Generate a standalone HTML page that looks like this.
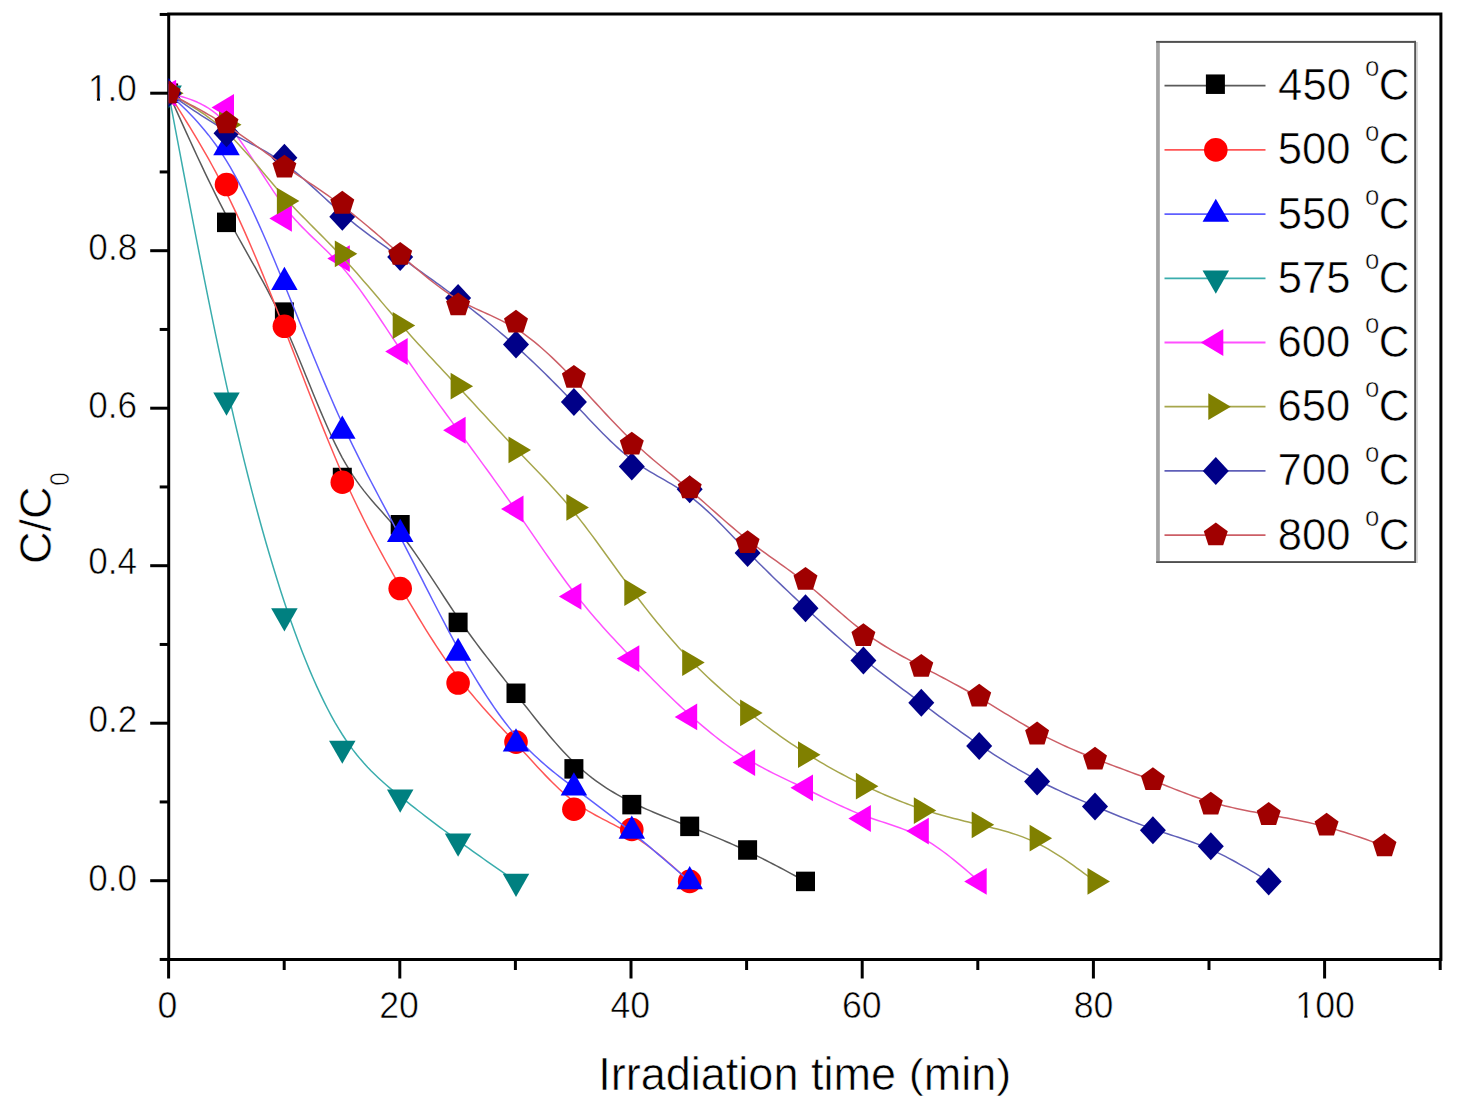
<!DOCTYPE html>
<html><head><meta charset="utf-8"><style>
html,body{margin:0;padding:0;background:#fff;}
body{width:1468px;height:1118px;overflow:hidden;}
svg{display:block;}
text{font-family:"Liberation Sans",sans-serif;fill:#000;stroke:#fff;stroke-width:0.6px;}
.tl{font-size:36px;}
.lg{font-size:42.5px;}
.sup{font-size:26px;}
.ax{font-size:44px;}
</style></head><body>
<svg width="1468" height="1118" viewBox="0 0 1468 1118">
<defs><clipPath id="pc"><rect x="168.6" y="15.5" width="1270.8" height="942.5"/></clipPath></defs>
<rect width="1468" height="1118" fill="#fff"/>
<rect x="168.7" y="14.0" width="1272.2" height="945.5" fill="none" stroke="#000" stroke-width="3"/>
<line x1="159.7" y1="959.45" x2="168.7" y2="959.45" stroke="#000" stroke-width="3"/>
<line x1="150.2" y1="880.70" x2="168.7" y2="880.70" stroke="#000" stroke-width="3"/>
<line x1="159.7" y1="801.95" x2="168.7" y2="801.95" stroke="#000" stroke-width="3"/>
<line x1="150.2" y1="723.20" x2="168.7" y2="723.20" stroke="#000" stroke-width="3"/>
<line x1="159.7" y1="644.45" x2="168.7" y2="644.45" stroke="#000" stroke-width="3"/>
<line x1="150.2" y1="565.70" x2="168.7" y2="565.70" stroke="#000" stroke-width="3"/>
<line x1="159.7" y1="486.95" x2="168.7" y2="486.95" stroke="#000" stroke-width="3"/>
<line x1="150.2" y1="408.20" x2="168.7" y2="408.20" stroke="#000" stroke-width="3"/>
<line x1="159.7" y1="329.45" x2="168.7" y2="329.45" stroke="#000" stroke-width="3"/>
<line x1="150.2" y1="250.70" x2="168.7" y2="250.70" stroke="#000" stroke-width="3"/>
<line x1="159.7" y1="171.95" x2="168.7" y2="171.95" stroke="#000" stroke-width="3"/>
<line x1="150.2" y1="93.20" x2="168.7" y2="93.20" stroke="#000" stroke-width="3"/>
<line x1="159.7" y1="14.45" x2="168.7" y2="14.45" stroke="#000" stroke-width="3"/>
<line x1="168.60" y1="959.5" x2="168.60" y2="978.5" stroke="#000" stroke-width="3"/>
<line x1="284.20" y1="959.5" x2="284.20" y2="970.0" stroke="#000" stroke-width="3"/>
<line x1="399.80" y1="959.5" x2="399.80" y2="978.5" stroke="#000" stroke-width="3"/>
<line x1="515.40" y1="959.5" x2="515.40" y2="970.0" stroke="#000" stroke-width="3"/>
<line x1="631.00" y1="959.5" x2="631.00" y2="978.5" stroke="#000" stroke-width="3"/>
<line x1="746.60" y1="959.5" x2="746.60" y2="970.0" stroke="#000" stroke-width="3"/>
<line x1="862.20" y1="959.5" x2="862.20" y2="978.5" stroke="#000" stroke-width="3"/>
<line x1="977.80" y1="959.5" x2="977.80" y2="970.0" stroke="#000" stroke-width="3"/>
<line x1="1093.40" y1="959.5" x2="1093.40" y2="978.5" stroke="#000" stroke-width="3"/>
<line x1="1209.00" y1="959.5" x2="1209.00" y2="970.0" stroke="#000" stroke-width="3"/>
<line x1="1324.60" y1="959.5" x2="1324.60" y2="978.5" stroke="#000" stroke-width="3"/>
<line x1="1440.20" y1="959.5" x2="1440.20" y2="970.0" stroke="#000" stroke-width="3"/>
<g transform="translate(88.07,101.35) scale(0.9600,1.0000)"><text x="0" y="0" style="font-size:36.60px">1.0</text><rect x="1.79" y="-3.43" width="7.42" height="4.53" fill="#fff"/><rect x="12.44" y="-3.43" width="7.22" height="4.53" fill="#fff"/></g>
<g transform="translate(88.36,259.65) scale(0.9600,1.0000)"><text x="0" y="0" style="font-size:36.60px">0.8</text></g>
<g transform="translate(88.31,417.85) scale(0.9600,1.0000)"><text x="0" y="0" style="font-size:36.60px">0.6</text></g>
<g transform="translate(88.31,574.40) scale(0.9600,1.0000)"><text x="0" y="0" style="font-size:36.60px">0.4</text></g>
<g transform="translate(88.53,732.40) scale(0.9600,1.0000)"><text x="0" y="0" style="font-size:36.60px">0.2</text></g>
<g transform="translate(88.28,890.55) scale(0.9600,1.0000)"><text x="0" y="0" style="font-size:36.60px">0.0</text></g>
<g transform="translate(157.62,1018.39) scale(0.9500,1.0000)"><text x="0" y="0" style="font-size:37.60px">0</text></g>
<g transform="translate(379.23,1018.19) scale(0.9500,1.0000)"><text x="0" y="0" style="font-size:37.60px">20</text></g>
<g transform="translate(610.47,1018.19) scale(0.9500,1.0000)"><text x="0" y="0" style="font-size:37.60px">40</text></g>
<g transform="translate(841.92,1017.99) scale(0.9500,1.0000)"><text x="0" y="0" style="font-size:37.60px">60</text></g>
<g transform="translate(1073.71,1018.09) scale(0.9500,1.0000)"><text x="0" y="0" style="font-size:37.60px">80</text></g>
<g transform="translate(1295.33,1018.19) scale(0.9500,1.0000)"><text x="0" y="0" style="font-size:37.60px">100</text><rect x="1.84" y="-3.51" width="7.62" height="4.61" fill="#fff"/><rect x="12.78" y="-3.51" width="7.42" height="4.61" fill="#fff"/></g>
<g clip-path="url(#pc)">
<path d="M168.60,93.20 L172.22,101.27 L175.84,109.33 L179.46,117.37 L183.07,125.38 L186.69,133.36 L190.31,141.29 L193.93,149.15 L197.55,156.95 L201.17,164.68 L204.79,172.32 L208.41,179.86 L212.02,187.29 L215.64,194.61 L219.26,201.81 L222.88,208.87 L226.50,215.79 L230.12,222.56 L233.74,229.20 L237.36,235.75 L240.97,242.22 L244.59,248.66 L248.21,255.08 L251.83,261.51 L255.45,267.99 L259.07,274.54 L262.69,281.19 L266.31,287.96 L269.92,294.89 L273.54,302.01 L277.16,309.33 L280.78,316.89 L284.40,324.73 L288.02,332.84 L291.64,341.20 L295.26,349.76 L298.87,358.48 L302.49,367.30 L306.11,376.18 L309.73,385.07 L313.35,393.93 L316.97,402.70 L320.59,411.34 L324.21,419.81 L327.82,428.05 L331.44,436.02 L335.06,443.66 L338.68,450.95 L342.30,457.81 L345.92,464.23 L349.54,470.23 L353.16,475.85 L356.77,481.14 L360.39,486.12 L364.01,490.86 L367.63,495.37 L371.25,499.71 L374.87,503.92 L378.49,508.04 L382.11,512.11 L385.72,516.17 L389.34,520.27 L392.96,524.43 L396.58,528.71 L400.20,533.15 L403.82,537.77 L407.44,542.57 L411.06,547.54 L414.67,552.64 L418.29,557.86 L421.91,563.18 L425.53,568.59 L429.15,574.07 L432.77,579.59 L436.39,585.13 L440.01,590.69 L443.62,596.24 L447.24,601.75 L450.86,607.22 L454.48,612.62 L458.10,617.94 L461.72,623.15 L465.34,628.27 L468.96,633.30 L472.58,638.25 L476.19,643.12 L479.81,647.93 L483.43,652.68 L487.05,657.38 L490.67,662.03 L494.29,666.65 L497.91,671.25 L501.53,675.82 L505.14,680.38 L508.76,684.93 L512.38,689.49 L516.00,694.06 L519.62,698.65 L523.24,703.24 L526.86,707.83 L530.48,712.40 L534.09,716.95 L537.71,721.47 L541.33,725.93 L544.95,730.34 L548.57,734.68 L552.19,738.95 L555.81,743.12 L559.42,747.19 L563.04,751.14 L566.66,754.98 L570.28,758.68 L573.90,762.23 L577.52,765.64 L581.14,768.89 L584.76,772.00 L588.37,774.97 L591.99,777.82 L595.61,780.54 L599.23,783.14 L602.85,785.63 L606.47,788.01 L610.09,790.30 L613.71,792.49 L617.32,794.60 L620.94,796.63 L624.56,798.58 L628.18,800.47 L631.80,802.29 L635.42,804.06 L639.04,805.78 L642.66,807.45 L646.27,809.08 L649.89,810.67 L653.51,812.22 L657.13,813.75 L660.75,815.24 L664.37,816.71 L667.99,818.17 L671.61,819.60 L675.22,821.03 L678.84,822.44 L682.46,823.85 L686.08,825.26 L689.70,826.68 L693.32,828.10 L696.94,829.53 L700.56,830.97 L704.17,832.42 L707.79,833.89 L711.41,835.37 L715.03,836.86 L718.65,838.38 L722.27,839.91 L725.89,841.46 L729.51,843.04 L733.12,844.63 L736.74,846.26 L740.36,847.91 L743.98,849.58 L747.60,851.29 L751.22,853.02 L754.84,854.79 L758.46,856.58 L762.08,858.39 L765.69,860.23 L769.31,862.09 L772.93,863.97 L776.55,865.86 L780.17,867.77 L783.79,869.69 L787.41,871.63 L791.03,873.57 L794.64,875.53 L798.26,877.48 L801.88,879.45 L805.50,881.41" fill="none" stroke="#5a5a5a" stroke-width="1.5" stroke-linejoin="round"/>
<rect x="159.10" y="83.45" width="19" height="19.5" fill="#000000"/>
<rect x="217.00" y="212.60" width="19" height="19.5" fill="#000000"/>
<rect x="274.90" y="302.38" width="19" height="19.5" fill="#000000"/>
<rect x="332.80" y="467.75" width="19" height="19.5" fill="#000000"/>
<rect x="390.70" y="515.00" width="19" height="19.5" fill="#000000"/>
<rect x="448.60" y="612.65" width="19" height="19.5" fill="#000000"/>
<rect x="506.50" y="683.53" width="19" height="19.5" fill="#000000"/>
<rect x="564.40" y="759.12" width="19" height="19.5" fill="#000000"/>
<rect x="622.30" y="794.88" width="19" height="19.5" fill="#000000"/>
<rect x="680.20" y="816.61" width="19" height="19.5" fill="#000000"/>
<rect x="738.10" y="840.24" width="19" height="19.5" fill="#000000"/>
<rect x="796.00" y="871.66" width="19" height="19.5" fill="#000000"/>
<path d="M168.60,93.20 L172.22,98.91 L175.84,104.64 L179.46,110.38 L183.07,116.17 L186.69,122.00 L190.31,127.90 L193.93,133.87 L197.55,139.93 L201.17,146.08 L204.79,152.34 L208.41,158.73 L212.02,165.26 L215.64,171.93 L219.26,178.76 L222.88,185.76 L226.50,192.95 L230.12,200.33 L233.74,207.90 L237.36,215.65 L240.97,223.57 L244.59,231.65 L248.21,239.88 L251.83,248.26 L255.45,256.77 L259.07,265.41 L262.69,274.16 L266.31,283.03 L269.92,291.99 L273.54,301.04 L277.16,310.18 L280.78,319.39 L284.40,328.66 L288.02,337.99 L291.64,347.36 L295.26,356.75 L298.87,366.15 L302.49,375.54 L306.11,384.91 L309.73,394.25 L313.35,403.52 L316.97,412.73 L320.59,421.86 L324.21,430.88 L327.82,439.79 L331.44,448.57 L335.06,457.20 L338.68,465.67 L342.30,473.96 L345.92,482.06 L349.54,489.97 L353.16,497.71 L356.77,505.28 L360.39,512.70 L364.01,519.97 L367.63,527.10 L371.25,534.10 L374.87,540.98 L378.49,547.75 L382.11,554.42 L385.72,561.00 L389.34,567.49 L392.96,573.91 L396.58,580.27 L400.20,586.57 L403.82,592.82 L407.44,599.02 L411.06,605.16 L414.67,611.24 L418.29,617.25 L421.91,623.18 L425.53,629.04 L429.15,634.80 L432.77,640.48 L436.39,646.05 L440.01,651.53 L443.62,656.89 L447.24,662.14 L450.86,667.26 L454.48,672.26 L458.10,677.13 L461.72,681.86 L465.34,686.47 L468.96,690.95 L472.58,695.33 L476.19,699.62 L479.81,703.82 L483.43,707.94 L487.05,712.00 L490.67,716.01 L494.29,719.97 L497.91,723.90 L501.53,727.81 L505.14,731.71 L508.76,735.61 L512.38,739.52 L516.00,743.45 L519.62,747.41 L523.24,751.39 L526.86,755.37 L530.48,759.34 L534.09,763.29 L537.71,767.21 L541.33,771.07 L544.95,774.88 L548.57,778.61 L552.19,782.25 L555.81,785.78 L559.42,789.20 L563.04,792.49 L566.66,795.64 L570.28,798.63 L573.90,801.45 L577.52,804.09 L581.14,806.57 L584.76,808.91 L588.37,811.12 L591.99,813.22 L595.61,815.23 L599.23,817.18 L602.85,819.07 L606.47,820.94 L610.09,822.80 L613.71,824.66 L617.32,826.56 L620.94,828.50 L624.56,830.50 L628.18,832.59 L631.80,834.79 L635.42,837.10 L639.04,839.53 L642.66,842.07 L646.27,844.71 L649.89,847.44 L653.51,850.26 L657.13,853.16 L660.75,856.12 L664.37,859.15 L667.99,862.23 L671.61,865.35 L675.22,868.52 L678.84,871.71 L682.46,874.93 L686.08,878.17 L689.70,881.41" fill="none" stroke="#ff5555" stroke-width="1.5" stroke-linejoin="round"/>
<circle cx="168.60" cy="93.20" r="11.8" fill="#ff0000"/>
<circle cx="226.50" cy="184.55" r="11.8" fill="#ff0000"/>
<circle cx="284.40" cy="326.30" r="11.8" fill="#ff0000"/>
<circle cx="342.30" cy="482.23" r="11.8" fill="#ff0000"/>
<circle cx="400.20" cy="588.54" r="11.8" fill="#ff0000"/>
<circle cx="458.10" cy="683.04" r="11.8" fill="#ff0000"/>
<circle cx="516.00" cy="742.10" r="11.8" fill="#ff0000"/>
<circle cx="573.90" cy="809.27" r="11.8" fill="#ff0000"/>
<circle cx="631.80" cy="829.51" r="11.8" fill="#ff0000"/>
<circle cx="689.70" cy="881.41" r="11.8" fill="#ff0000"/>
<path d="M168.60,93.20 L172.22,96.60 L175.84,100.02 L179.46,103.48 L183.07,106.99 L186.69,110.59 L190.31,114.28 L193.93,118.09 L197.55,122.04 L201.17,126.15 L204.79,130.43 L208.41,134.91 L212.02,139.60 L215.64,144.53 L219.26,149.71 L222.88,155.17 L226.50,160.93 L230.12,166.99 L233.74,173.34 L237.36,179.98 L240.97,186.89 L244.59,194.04 L248.21,201.43 L251.83,209.03 L255.45,216.84 L259.07,224.83 L262.69,232.98 L266.31,241.29 L269.92,249.74 L273.54,258.31 L277.16,266.98 L280.78,275.73 L284.40,284.56 L288.02,293.45 L291.64,302.37 L295.26,311.32 L298.87,320.29 L302.49,329.25 L306.11,338.19 L309.73,347.10 L313.35,355.96 L316.97,364.76 L320.59,373.49 L324.21,382.12 L327.82,390.65 L331.44,399.06 L335.06,407.34 L338.68,415.46 L342.30,423.43 L345.92,431.21 L349.54,438.84 L353.16,446.31 L356.77,453.66 L360.39,460.88 L364.01,468.00 L367.63,475.04 L371.25,482.00 L374.87,488.90 L378.49,495.75 L382.11,502.58 L385.72,509.40 L389.34,516.21 L392.96,523.05 L396.58,529.91 L400.20,536.83 L403.82,543.79 L407.44,550.81 L411.06,557.87 L414.67,564.96 L418.29,572.07 L421.91,579.18 L425.53,586.30 L429.15,593.39 L432.77,600.47 L436.39,607.51 L440.01,614.50 L443.62,621.43 L447.24,628.30 L450.86,635.09 L454.48,641.79 L458.10,648.39 L461.72,654.88 L465.34,661.25 L468.96,667.51 L472.58,673.64 L476.19,679.64 L479.81,685.51 L483.43,691.24 L487.05,696.84 L490.67,702.28 L494.29,707.57 L497.91,712.71 L501.53,717.69 L505.14,722.51 L508.76,727.16 L512.38,731.63 L516.00,735.93 L519.62,740.05 L523.24,744.00 L526.86,747.79 L530.48,751.43 L534.09,754.94 L537.71,758.32 L541.33,761.58 L544.95,764.74 L548.57,767.81 L552.19,770.80 L555.81,773.71 L559.42,776.57 L563.04,779.38 L566.66,782.16 L570.28,784.91 L573.90,787.64 L577.52,790.37 L581.14,793.10 L584.76,795.83 L588.37,798.57 L591.99,801.30 L595.61,804.05 L599.23,806.80 L602.85,809.56 L606.47,812.34 L610.09,815.12 L613.71,817.93 L617.32,820.75 L620.94,823.59 L624.56,826.46 L628.18,829.34 L631.80,832.26 L635.42,835.20 L639.04,838.16 L642.66,841.15 L646.27,844.16 L649.89,847.19 L653.51,850.24 L657.13,853.31 L660.75,856.39 L664.37,859.49 L667.99,862.60 L671.61,865.72 L675.22,868.85 L678.84,871.98 L682.46,875.12 L686.08,878.26 L689.70,881.41" fill="none" stroke="#5f5fff" stroke-width="1.5" stroke-linejoin="round"/>
<polygon points="168.60,77.73 181.85,100.93 155.35,100.93" fill="#0000ff"/>
<polygon points="226.50,132.07 239.75,155.27 213.25,155.27" fill="#0000ff"/>
<polygon points="284.40,266.73 297.65,289.93 271.15,289.93" fill="#0000ff"/>
<polygon points="342.30,415.57 355.55,438.77 329.05,438.77" fill="#0000ff"/>
<polygon points="400.20,518.73 413.45,541.93 386.95,541.93" fill="#0000ff"/>
<polygon points="458.10,637.65 471.35,660.85 444.85,660.85" fill="#0000ff"/>
<polygon points="516.00,728.21 529.25,751.41 502.75,751.41" fill="#0000ff"/>
<polygon points="573.90,772.31 587.15,795.51 560.65,795.51" fill="#0000ff"/>
<polygon points="631.80,815.62 645.05,838.82 618.55,838.82" fill="#0000ff"/>
<polygon points="689.70,865.94 702.95,889.14 676.45,889.14" fill="#0000ff"/>
<path d="M168.60,93.20 L172.22,112.39 L175.84,131.56 L179.46,150.69 L183.07,169.74 L186.69,188.71 L190.31,207.57 L193.93,226.29 L197.55,244.86 L201.17,263.25 L204.79,281.44 L208.41,299.40 L212.02,317.12 L215.64,334.57 L219.26,351.73 L222.88,368.58 L226.50,385.10 L230.12,401.26 L233.74,417.07 L237.36,432.52 L240.97,447.63 L244.59,462.38 L248.21,476.79 L251.83,490.85 L255.45,504.57 L259.07,517.95 L262.69,530.98 L266.31,543.68 L269.92,556.05 L273.54,568.08 L277.16,579.78 L280.78,591.15 L284.40,602.19 L288.02,612.90 L291.64,623.29 L295.26,633.35 L298.87,643.09 L302.49,652.50 L306.11,661.58 L309.73,670.34 L313.35,678.77 L316.97,686.88 L320.59,694.66 L324.21,702.11 L327.82,709.24 L331.44,716.04 L335.06,722.52 L338.68,728.66 L342.30,734.49 L345.92,739.99 L349.54,745.18 L353.16,750.09 L356.77,754.72 L360.39,759.11 L364.01,763.27 L367.63,767.22 L371.25,770.98 L374.87,774.56 L378.49,777.99 L382.11,781.29 L385.72,784.47 L389.34,787.56 L392.96,790.57 L396.58,793.52 L400.20,796.44 L403.82,799.33 L407.44,802.21 L411.06,805.07 L414.67,807.91 L418.29,810.73 L421.91,813.53 L425.53,816.32 L429.15,819.09 L432.77,821.85 L436.39,824.58 L440.01,827.30 L443.62,830.01 L447.24,832.69 L450.86,835.36 L454.48,838.02 L458.10,840.66 L461.72,843.28 L465.34,845.89 L468.96,848.48 L472.58,851.06 L476.19,853.63 L479.81,856.19 L483.43,858.74 L487.05,861.28 L490.67,863.82 L494.29,866.34 L497.91,868.86 L501.53,871.38 L505.14,873.89 L508.76,876.40 L512.38,878.90 L516.00,881.41" fill="none" stroke="#3aadad" stroke-width="1.5" stroke-linejoin="round"/>
<polygon points="168.60,108.67 181.85,85.47 155.35,85.47" fill="#008080"/>
<polygon points="226.50,415.79 239.75,392.59 213.25,392.59" fill="#008080"/>
<polygon points="284.40,631.57 297.65,608.37 271.15,608.37" fill="#008080"/>
<polygon points="342.30,763.87 355.55,740.67 329.05,740.67" fill="#008080"/>
<polygon points="400.20,812.69 413.45,789.49 386.95,789.49" fill="#008080"/>
<polygon points="458.10,856.79 471.35,833.59 444.85,833.59" fill="#008080"/>
<polygon points="516.00,896.88 529.25,873.68 502.75,873.68" fill="#008080"/>
<path d="M168.60,93.20 L172.22,94.09 L175.84,95.00 L179.46,95.96 L183.07,97.00 L186.69,98.12 L190.31,99.37 L193.93,100.75 L197.55,102.31 L201.17,104.05 L204.79,106.00 L208.41,108.19 L212.02,110.64 L215.64,113.38 L219.26,116.42 L222.88,119.79 L226.50,123.52 L230.12,127.61 L233.74,132.05 L237.36,136.78 L240.97,141.76 L244.59,146.96 L248.21,152.33 L251.83,157.84 L255.45,163.44 L259.07,169.08 L262.69,174.74 L266.31,180.37 L269.92,185.92 L273.54,191.36 L277.16,196.65 L280.78,201.74 L284.40,206.60 L288.02,211.19 L291.64,215.54 L295.26,219.66 L298.87,223.61 L302.49,227.39 L306.11,231.05 L309.73,234.62 L313.35,238.12 L316.97,241.58 L320.59,245.04 L324.21,248.52 L327.82,252.06 L331.44,255.68 L335.06,259.42 L338.68,263.31 L342.30,267.37 L345.92,271.63 L349.54,276.08 L353.16,280.70 L356.77,285.48 L360.39,290.40 L364.01,295.44 L367.63,300.60 L371.25,305.84 L374.87,311.16 L378.49,316.54 L382.11,321.96 L385.72,327.41 L389.34,332.87 L392.96,338.32 L396.58,343.75 L400.20,349.14 L403.82,354.48 L407.44,359.76 L411.06,365.00 L414.67,370.19 L418.29,375.34 L421.91,380.45 L425.53,385.53 L429.15,390.58 L432.77,395.60 L436.39,400.59 L440.01,405.57 L443.62,410.53 L447.24,415.47 L450.86,420.40 L454.48,425.33 L458.10,430.25 L461.72,435.17 L465.34,440.10 L468.96,445.03 L472.58,449.96 L476.19,454.90 L479.81,459.86 L483.43,464.82 L487.05,469.81 L490.67,474.80 L494.29,479.82 L497.91,484.86 L501.53,489.92 L505.14,495.01 L508.76,500.12 L512.38,505.27 L516.00,510.44 L519.62,515.65 L523.24,520.89 L526.86,526.14 L530.48,531.40 L534.09,536.66 L537.71,541.91 L541.33,547.15 L544.95,552.36 L548.57,557.54 L552.19,562.68 L555.81,567.78 L559.42,572.81 L563.04,577.78 L566.66,582.68 L570.28,587.49 L573.90,592.21 L577.52,596.84 L581.14,601.37 L584.76,605.82 L588.37,610.18 L591.99,614.47 L595.61,618.68 L599.23,622.83 L602.85,626.91 L606.47,630.94 L610.09,634.91 L613.71,638.84 L617.32,642.73 L620.94,646.58 L624.56,650.40 L628.18,654.19 L631.80,657.97 L635.42,661.73 L639.04,665.47 L642.66,669.19 L646.27,672.88 L649.89,676.56 L653.51,680.21 L657.13,683.83 L660.75,687.42 L664.37,690.98 L667.99,694.50 L671.61,697.99 L675.22,701.44 L678.84,704.84 L682.46,708.21 L686.08,711.53 L689.70,714.80 L693.32,718.02 L696.94,721.20 L700.56,724.32 L704.17,727.38 L707.79,730.39 L711.41,733.34 L715.03,736.22 L718.65,739.05 L722.27,741.81 L725.89,744.50 L729.51,747.13 L733.12,749.68 L736.74,752.17 L740.36,754.58 L743.98,756.91 L747.60,759.16 L751.22,761.34 L754.84,763.44 L758.46,765.48 L762.08,767.45 L765.69,769.37 L769.31,771.24 L772.93,773.07 L776.55,774.86 L780.17,776.63 L783.79,778.37 L787.41,780.09 L791.03,781.81 L794.64,783.52 L798.26,785.23 L801.88,786.96 L805.50,788.69 L809.12,790.45 L812.74,792.22 L816.36,794.01 L819.98,795.79 L823.59,797.58 L827.21,799.36 L830.83,801.12 L834.45,802.87 L838.07,804.59 L841.69,806.28 L845.31,807.94 L848.93,809.55 L852.54,811.12 L856.16,812.63 L859.78,814.08 L863.40,815.47 L867.02,816.79 L870.64,818.05 L874.26,819.27 L877.88,820.46 L881.49,821.64 L885.11,822.81 L888.73,823.99 L892.35,825.20 L895.97,826.44 L899.59,827.74 L903.21,829.10 L906.83,830.54 L910.44,832.08 L914.06,833.72 L917.68,835.48 L921.30,837.37 L924.92,839.41 L928.54,841.59 L932.16,843.89 L935.77,846.32 L939.39,848.86 L943.01,851.49 L946.63,854.22 L950.25,857.03 L953.87,859.92 L957.49,862.87 L961.11,865.88 L964.73,868.93 L968.34,872.01 L971.96,875.13 L975.58,878.27 L979.20,881.41" fill="none" stroke="#ff50ff" stroke-width="1.5" stroke-linejoin="round"/>
<polygon points="153.60,93.20 176.10,79.80 176.10,106.60" fill="#ff00ff"/>
<polygon points="211.50,107.38 234.00,93.98 234.00,120.78" fill="#ff00ff"/>
<polygon points="269.40,218.41 291.90,205.01 291.90,231.81" fill="#ff00ff"/>
<polygon points="327.30,258.58 349.80,245.18 349.80,271.98" fill="#ff00ff"/>
<polygon points="385.20,351.50 407.70,338.10 407.70,364.90" fill="#ff00ff"/>
<polygon points="443.10,430.25 465.60,416.85 465.60,443.65" fill="#ff00ff"/>
<polygon points="501.00,509.00 523.50,495.60 523.50,522.40" fill="#ff00ff"/>
<polygon points="558.90,596.41 581.40,583.01 581.40,609.81" fill="#ff00ff"/>
<polygon points="616.80,658.62 639.30,645.23 639.30,672.02" fill="#ff00ff"/>
<polygon points="674.70,716.90 697.20,703.50 697.20,730.30" fill="#ff00ff"/>
<polygon points="732.60,762.58 755.10,749.18 755.10,775.98" fill="#ff00ff"/>
<polygon points="790.50,787.78 813.00,774.38 813.00,801.18" fill="#ff00ff"/>
<polygon points="848.40,818.49 870.90,805.09 870.90,831.89" fill="#ff00ff"/>
<polygon points="906.30,831.09 928.80,817.69 928.80,844.49" fill="#ff00ff"/>
<polygon points="964.20,881.41 986.70,868.01 986.70,894.81" fill="#ff00ff"/>
<path d="M168.60,93.20 L172.22,95.17 L175.84,97.15 L179.46,99.16 L183.07,101.19 L186.69,103.27 L190.31,105.41 L193.93,107.61 L197.55,109.89 L201.17,112.25 L204.79,114.71 L208.41,117.29 L212.02,119.98 L215.64,122.81 L219.26,125.77 L222.88,128.90 L226.50,132.18 L230.12,135.64 L233.74,139.25 L237.36,143.01 L240.97,146.89 L244.59,150.88 L248.21,154.96 L251.83,159.12 L255.45,163.34 L259.07,167.59 L262.69,171.88 L266.31,176.17 L269.92,180.45 L273.54,184.70 L277.16,188.92 L280.78,193.07 L284.40,197.15 L288.02,201.14 L291.64,205.05 L295.26,208.89 L298.87,212.67 L302.49,216.39 L306.11,220.08 L309.73,223.73 L313.35,227.37 L316.97,231.00 L320.59,234.63 L324.21,238.27 L327.82,241.93 L331.44,245.62 L335.06,249.36 L338.68,253.15 L342.30,257.00 L345.92,260.92 L349.54,264.91 L353.16,268.96 L356.77,273.07 L360.39,277.21 L364.01,281.40 L367.63,285.61 L371.25,289.85 L374.87,294.10 L378.49,298.36 L382.11,302.62 L385.72,306.87 L389.34,311.11 L392.96,315.33 L396.58,319.52 L400.20,323.68 L403.82,327.79 L407.44,331.86 L411.06,335.90 L414.67,339.90 L418.29,343.88 L421.91,347.83 L425.53,351.76 L429.15,355.67 L432.77,359.56 L436.39,363.44 L440.01,367.32 L443.62,371.18 L447.24,375.05 L450.86,378.92 L454.48,382.79 L458.10,386.68 L461.72,390.57 L465.34,394.47 L468.96,398.38 L472.58,402.30 L476.19,406.22 L479.81,410.14 L483.43,414.06 L487.05,417.98 L490.67,421.89 L494.29,425.79 L497.91,429.68 L501.53,433.56 L505.14,437.42 L508.76,441.26 L512.38,445.09 L516.00,448.89 L519.62,452.67 L523.24,456.43 L526.86,460.18 L530.48,463.94 L534.09,467.70 L537.71,471.48 L541.33,475.29 L544.95,479.12 L548.57,483.00 L552.19,486.93 L555.81,490.92 L559.42,494.97 L563.04,499.10 L566.66,503.31 L570.28,507.62 L573.90,512.02 L577.52,516.53 L581.14,521.13 L584.76,525.82 L588.37,530.59 L591.99,535.42 L595.61,540.31 L599.23,545.24 L602.85,550.21 L606.47,555.21 L610.09,560.21 L613.71,565.23 L617.32,570.23 L620.94,575.22 L624.56,580.18 L628.18,585.11 L631.80,589.98 L635.42,594.80 L639.04,599.56 L642.66,604.26 L646.27,608.89 L649.89,613.47 L653.51,617.98 L657.13,622.42 L660.75,626.80 L664.37,631.11 L667.99,635.35 L671.61,639.52 L675.22,643.62 L678.84,647.64 L682.46,651.60 L686.08,655.48 L689.70,659.28 L693.32,663.01 L696.94,666.66 L700.56,670.24 L704.17,673.76 L707.79,677.20 L711.41,680.59 L715.03,683.91 L718.65,687.17 L722.27,690.38 L725.89,693.54 L729.51,696.64 L733.12,699.70 L736.74,702.72 L740.36,705.69 L743.98,708.62 L747.60,711.52 L751.22,714.38 L754.84,717.21 L758.46,720.00 L762.08,722.76 L765.69,725.48 L769.31,728.17 L772.93,730.82 L776.55,733.44 L780.17,736.02 L783.79,738.56 L787.41,741.06 L791.03,743.52 L794.64,745.95 L798.26,748.34 L801.88,750.69 L805.50,752.99 L809.12,755.26 L812.74,757.49 L816.36,759.68 L819.98,761.84 L823.59,763.95 L827.21,766.03 L830.83,768.08 L834.45,770.09 L838.07,772.07 L841.69,774.01 L845.31,775.92 L848.93,777.80 L852.54,779.65 L856.16,781.47 L859.78,783.26 L863.40,785.02 L867.02,786.75 L870.64,788.46 L874.26,790.13 L877.88,791.78 L881.49,793.39 L885.11,794.98 L888.73,796.53 L892.35,798.05 L895.97,799.53 L899.59,800.98 L903.21,802.39 L906.83,803.77 L910.44,805.11 L914.06,806.42 L917.68,807.68 L921.30,808.91 L924.92,810.09 L928.54,811.24 L932.16,812.35 L935.77,813.43 L939.39,814.48 L943.01,815.50 L946.63,816.50 L950.25,817.47 L953.87,818.42 L957.49,819.35 L961.11,820.26 L964.73,821.16 L968.34,822.05 L971.96,822.92 L975.58,823.79 L979.20,824.66 L982.82,825.52 L986.44,826.38 L990.06,827.26 L993.67,828.16 L997.29,829.08 L1000.91,830.04 L1004.53,831.04 L1008.15,832.09 L1011.77,833.19 L1015.39,834.36 L1019.01,835.60 L1022.62,836.92 L1026.24,838.33 L1029.86,839.83 L1033.48,841.44 L1037.10,843.15 L1040.72,844.98 L1044.34,846.91 L1047.96,848.95 L1051.57,851.08 L1055.19,853.30 L1058.81,855.60 L1062.43,857.98 L1066.05,860.41 L1069.67,862.91 L1073.29,865.46 L1076.91,868.05 L1080.53,870.68 L1084.14,873.34 L1087.76,876.01 L1091.38,878.71 L1095.00,881.41" fill="none" stroke="#a6a64c" stroke-width="1.5" stroke-linejoin="round"/>
<polygon points="183.60,93.20 161.10,79.80 161.10,106.60" fill="#808000"/>
<polygon points="241.50,124.70 219.00,111.30 219.00,138.10" fill="#808000"/>
<polygon points="299.40,201.09 276.90,187.69 276.90,214.49" fill="#808000"/>
<polygon points="357.30,253.85 334.80,240.45 334.80,267.25" fill="#808000"/>
<polygon points="415.20,325.51 392.70,312.11 392.70,338.91" fill="#808000"/>
<polygon points="473.10,386.15 450.60,372.75 450.60,399.55" fill="#808000"/>
<polygon points="531.00,449.94 508.50,436.54 508.50,463.34" fill="#808000"/>
<polygon points="588.90,507.43 566.40,494.03 566.40,520.83" fill="#808000"/>
<polygon points="646.80,592.48 624.30,579.08 624.30,605.88" fill="#808000"/>
<polygon points="704.70,662.56 682.20,649.16 682.20,675.96" fill="#808000"/>
<polygon points="762.60,712.96 740.10,699.56 740.10,726.36" fill="#808000"/>
<polygon points="820.50,754.70 798.00,741.30 798.00,768.10" fill="#808000"/>
<polygon points="878.40,786.20 855.90,772.80 855.90,799.60" fill="#808000"/>
<polygon points="936.30,810.61 913.80,797.21 913.80,824.01" fill="#808000"/>
<polygon points="994.20,824.79 971.70,811.39 971.70,838.19" fill="#808000"/>
<polygon points="1052.10,838.18 1029.60,824.78 1029.60,851.58" fill="#808000"/>
<polygon points="1110.00,881.41 1087.50,868.01 1087.50,894.81" fill="#808000"/>
<path d="M168.60,93.20 L172.22,95.71 L175.84,98.22 L179.46,100.71 L183.07,103.20 L186.69,105.67 L190.31,108.12 L193.93,110.55 L197.55,112.95 L201.17,115.32 L204.79,117.66 L208.41,119.96 L212.02,122.21 L215.64,124.42 L219.26,126.58 L222.88,128.69 L226.50,130.74 L230.12,132.73 L233.74,134.67 L237.36,136.57 L240.97,138.45 L244.59,140.31 L248.21,142.18 L251.83,144.06 L255.45,145.96 L259.07,147.90 L262.69,149.89 L266.31,151.94 L269.92,154.07 L273.54,156.28 L277.16,158.59 L280.78,161.01 L284.40,163.55 L288.02,166.22 L291.64,169.02 L295.26,171.93 L298.87,174.93 L302.49,178.01 L306.11,181.17 L309.73,184.38 L313.35,187.63 L316.97,190.92 L320.59,194.22 L324.21,197.53 L327.82,200.83 L331.44,204.11 L335.06,207.36 L338.68,210.55 L342.30,213.69 L345.92,216.75 L349.54,219.75 L353.16,222.68 L356.77,225.55 L360.39,228.37 L364.01,231.14 L367.63,233.86 L371.25,236.54 L374.87,239.19 L378.49,241.80 L382.11,244.40 L385.72,246.97 L389.34,249.52 L392.96,252.06 L396.58,254.60 L400.20,257.13 L403.82,259.67 L407.44,262.21 L411.06,264.75 L414.67,267.31 L418.29,269.87 L421.91,272.44 L425.53,275.02 L429.15,277.61 L432.77,280.21 L436.39,282.82 L440.01,285.46 L443.62,288.10 L447.24,290.77 L450.86,293.45 L454.48,296.15 L458.10,298.87 L461.72,301.61 L465.34,304.38 L468.96,307.17 L472.58,309.98 L476.19,312.82 L479.81,315.69 L483.43,318.59 L487.05,321.53 L490.67,324.49 L494.29,327.49 L497.91,330.52 L501.53,333.59 L505.14,336.69 L508.76,339.84 L512.38,343.02 L516.00,346.25 L519.62,349.52 L523.24,352.83 L526.86,356.18 L530.48,359.58 L534.09,363.01 L537.71,366.48 L541.33,369.99 L544.95,373.53 L548.57,377.11 L552.19,380.73 L555.81,384.38 L559.42,388.06 L563.04,391.77 L566.66,395.51 L570.28,399.28 L573.90,403.08 L577.52,406.91 L581.14,410.75 L584.76,414.60 L588.37,418.43 L591.99,422.25 L595.61,426.04 L599.23,429.78 L602.85,433.47 L606.47,437.08 L610.09,440.62 L613.71,444.07 L617.32,447.42 L620.94,450.64 L624.56,453.75 L628.18,456.71 L631.80,459.52 L635.42,462.17 L639.04,464.68 L642.66,467.07 L646.27,469.36 L649.89,471.56 L653.51,473.70 L657.13,475.80 L660.75,477.88 L664.37,479.95 L667.99,482.05 L671.61,484.18 L675.22,486.37 L678.84,488.65 L682.46,491.02 L686.08,493.51 L689.70,496.14 L693.32,498.92 L696.94,501.86 L700.56,504.92 L704.17,508.12 L707.79,511.42 L711.41,514.82 L715.03,518.31 L718.65,521.88 L722.27,525.51 L725.89,529.19 L729.51,532.91 L733.12,536.65 L736.74,540.41 L740.36,544.17 L743.98,547.93 L747.60,551.66 L751.22,555.36 L754.84,559.02 L758.46,562.66 L762.08,566.26 L765.69,569.84 L769.31,573.39 L772.93,576.92 L776.55,580.42 L780.17,583.90 L783.79,587.36 L787.41,590.80 L791.03,594.22 L794.64,597.63 L798.26,601.02 L801.88,604.39 L805.50,607.75 L809.12,611.10 L812.74,614.44 L816.36,617.76 L819.98,621.07 L823.59,624.36 L827.21,627.63 L830.83,630.88 L834.45,634.10 L838.07,637.30 L841.69,640.47 L845.31,643.61 L848.93,646.73 L852.54,649.81 L856.16,652.85 L859.78,655.86 L863.40,658.84 L867.02,661.77 L870.64,664.67 L874.26,667.53 L877.88,670.36 L881.49,673.17 L885.11,675.94 L888.73,678.70 L892.35,681.43 L895.97,684.15 L899.59,686.85 L903.21,689.54 L906.83,692.22 L910.44,694.90 L914.06,697.57 L917.68,700.24 L921.30,702.91 L924.92,705.58 L928.54,708.26 L932.16,710.94 L935.77,713.61 L939.39,716.28 L943.01,718.94 L946.63,721.60 L950.25,724.24 L953.87,726.87 L957.49,729.48 L961.11,732.08 L964.73,734.66 L968.34,737.21 L971.96,739.74 L975.58,742.25 L979.20,744.73 L982.82,747.17 L986.44,749.58 L990.06,751.97 L993.67,754.32 L997.29,756.63 L1000.91,758.91 L1004.53,761.16 L1008.15,763.37 L1011.77,765.55 L1015.39,767.69 L1019.01,769.79 L1022.62,771.86 L1026.24,773.89 L1029.86,775.87 L1033.48,777.82 L1037.10,779.73 L1040.72,781.60 L1044.34,783.43 L1047.96,785.22 L1051.57,786.98 L1055.19,788.70 L1058.81,790.40 L1062.43,792.07 L1066.05,793.71 L1069.67,795.34 L1073.29,796.94 L1076.91,798.52 L1080.53,800.09 L1084.14,801.64 L1087.76,803.18 L1091.38,804.72 L1095.00,806.24 L1098.62,807.76 L1102.24,809.28 L1105.86,810.78 L1109.47,812.28 L1113.09,813.77 L1116.71,815.24 L1120.33,816.70 L1123.95,818.15 L1127.57,819.57 L1131.19,820.98 L1134.81,822.37 L1138.42,823.74 L1142.04,825.08 L1145.66,826.40 L1149.28,827.69 L1152.90,828.95 L1156.52,830.18 L1160.14,831.39 L1163.76,832.59 L1167.37,833.77 L1170.99,834.95 L1174.61,836.13 L1178.23,837.32 L1181.85,838.53 L1185.47,839.76 L1189.09,841.01 L1192.71,842.30 L1196.32,843.64 L1199.94,845.02 L1203.56,846.45 L1207.18,847.95 L1210.80,849.51 L1214.42,851.15 L1218.04,852.86 L1221.66,854.63 L1225.27,856.45 L1228.89,858.34 L1232.51,860.28 L1236.13,862.26 L1239.75,864.28 L1243.37,866.34 L1246.99,868.43 L1250.61,870.55 L1254.22,872.70 L1257.84,874.86 L1261.46,877.03 L1265.08,879.22 L1268.70,881.41" fill="none" stroke="#5f5fb8" stroke-width="1.5" stroke-linejoin="round"/>
<polygon points="168.60,79.20 181.60,93.20 168.60,107.20 155.60,93.20" fill="#000088"/>
<polygon points="226.50,119.36 239.50,133.36 226.50,147.36 213.50,133.36" fill="#000088"/>
<polygon points="284.40,143.77 297.40,157.77 284.40,171.77 271.40,157.77" fill="#000088"/>
<polygon points="342.30,202.84 355.30,216.84 342.30,230.84 329.30,216.84" fill="#000088"/>
<polygon points="400.20,243.00 413.20,257.00 400.20,271.00 387.20,257.00" fill="#000088"/>
<polygon points="458.10,283.95 471.10,297.95 458.10,311.95 445.10,297.95" fill="#000088"/>
<polygon points="516.00,330.41 529.00,344.41 516.00,358.41 503.00,344.41" fill="#000088"/>
<polygon points="573.90,387.90 586.90,401.90 573.90,415.90 560.90,401.90" fill="#000088"/>
<polygon points="631.80,452.48 644.80,466.48 631.80,480.48 618.80,466.48" fill="#000088"/>
<polygon points="689.70,475.31 702.70,489.31 689.70,503.31 676.70,489.31" fill="#000088"/>
<polygon points="747.60,539.10 760.60,553.10 747.60,567.10 734.60,553.10" fill="#000088"/>
<polygon points="805.50,594.23 818.50,608.23 805.50,622.23 792.50,608.23" fill="#000088"/>
<polygon points="863.40,646.52 876.40,660.52 863.40,674.52 850.40,660.52" fill="#000088"/>
<polygon points="921.30,688.73 934.30,702.73 921.30,716.73 908.30,702.73" fill="#000088"/>
<polygon points="979.20,732.04 992.20,746.04 979.20,760.04 966.20,746.04" fill="#000088"/>
<polygon points="1037.10,767.48 1050.10,781.48 1037.10,795.48 1024.10,781.48" fill="#000088"/>
<polygon points="1095.00,792.44 1108.00,806.44 1095.00,820.44 1082.00,806.44" fill="#000088"/>
<polygon points="1152.90,816.22 1165.90,830.22 1152.90,844.22 1139.90,830.22" fill="#000088"/>
<polygon points="1210.80,832.37 1223.80,846.37 1210.80,860.37 1197.80,846.37" fill="#000088"/>
<polygon points="1268.70,867.41 1281.70,881.41 1268.70,895.41 1255.70,881.41" fill="#000088"/>
<path d="M168.60,93.20 L172.22,95.07 L175.84,96.95 L179.46,98.83 L183.07,100.72 L186.69,102.62 L190.31,104.55 L193.93,106.49 L197.55,108.46 L201.17,110.45 L204.79,112.48 L208.41,114.54 L212.02,116.64 L215.64,118.78 L219.26,120.97 L222.88,123.20 L226.50,125.49 L230.12,127.83 L233.74,130.22 L237.36,132.65 L240.97,135.13 L244.59,137.63 L248.21,140.17 L251.83,142.73 L255.45,145.31 L259.07,147.90 L262.69,150.49 L266.31,153.09 L269.92,155.68 L273.54,158.27 L277.16,160.84 L280.78,163.39 L284.40,165.91 L288.02,168.41 L291.64,170.88 L295.26,173.33 L298.87,175.77 L302.49,178.19 L306.11,180.62 L309.73,183.05 L313.35,185.49 L316.97,187.94 L320.59,190.41 L324.21,192.90 L327.82,195.43 L331.44,197.99 L335.06,200.59 L338.68,203.24 L342.30,205.94 L345.92,208.70 L349.54,211.52 L353.16,214.38 L356.77,217.30 L360.39,220.25 L364.01,223.25 L367.63,226.28 L371.25,229.34 L374.87,232.43 L378.49,235.54 L382.11,238.67 L385.72,241.82 L389.34,244.99 L392.96,248.16 L396.58,251.33 L400.20,254.51 L403.82,257.68 L407.44,260.84 L411.06,263.98 L414.67,267.10 L418.29,270.18 L421.91,273.21 L425.53,276.20 L429.15,279.13 L432.77,282.00 L436.39,284.78 L440.01,287.49 L443.62,290.11 L447.24,292.63 L450.86,295.04 L454.48,297.35 L458.10,299.53 L461.72,301.58 L465.34,303.52 L468.96,305.37 L472.58,307.14 L476.19,308.85 L479.81,310.52 L483.43,312.16 L487.05,313.80 L490.67,315.44 L494.29,317.11 L497.91,318.83 L501.53,320.60 L505.14,322.46 L508.76,324.41 L512.38,326.47 L516.00,328.66 L519.62,331.00 L523.24,333.48 L526.86,336.09 L530.48,338.83 L534.09,341.70 L537.71,344.68 L541.33,347.77 L544.95,350.96 L548.57,354.25 L552.19,357.63 L555.81,361.09 L559.42,364.64 L563.04,368.25 L566.66,371.93 L570.28,375.67 L573.90,379.46 L577.52,383.29 L581.14,387.17 L584.76,391.07 L588.37,394.99 L591.99,398.93 L595.61,402.87 L599.23,406.80 L602.85,410.72 L606.47,414.62 L610.09,418.48 L613.71,422.31 L617.32,426.09 L620.94,429.81 L624.56,433.47 L628.18,437.05 L631.80,440.55 L635.42,443.97 L639.04,447.30 L642.66,450.56 L646.27,453.75 L649.89,456.88 L653.51,459.97 L657.13,463.01 L660.75,466.02 L664.37,469.01 L667.99,471.99 L671.61,474.95 L675.22,477.92 L678.84,480.90 L682.46,483.89 L686.08,486.91 L689.70,489.97 L693.32,493.07 L696.94,496.20 L700.56,499.36 L704.17,502.54 L707.79,505.74 L711.41,508.94 L715.03,512.15 L718.65,515.35 L722.27,518.53 L725.89,521.70 L729.51,524.83 L733.12,527.93 L736.74,530.99 L740.36,534.00 L743.98,536.95 L747.60,539.84 L751.22,542.66 L754.84,545.42 L758.46,548.13 L762.08,550.79 L765.69,553.43 L769.31,556.03 L772.93,558.62 L776.55,561.20 L780.17,563.79 L783.79,566.39 L787.41,569.01 L791.03,571.66 L794.64,574.36 L798.26,577.10 L801.88,579.90 L805.50,582.76 L809.12,585.70 L812.74,588.71 L816.36,591.77 L819.98,594.88 L823.59,598.01 L827.21,601.17 L830.83,604.34 L834.45,607.51 L838.07,610.67 L841.69,613.80 L845.31,616.91 L848.93,619.96 L852.54,622.96 L856.16,625.90 L859.78,628.75 L863.40,631.52 L867.02,634.19 L870.64,636.77 L874.26,639.26 L877.88,641.66 L881.49,644.00 L885.11,646.26 L888.73,648.45 L892.35,650.59 L895.97,652.68 L899.59,654.73 L903.21,656.73 L906.83,658.70 L910.44,660.64 L914.06,662.56 L917.68,664.47 L921.30,666.37 L924.92,668.26 L928.54,670.16 L932.16,672.05 L935.77,673.95 L939.39,675.85 L943.01,677.76 L946.63,679.68 L950.25,681.61 L953.87,683.56 L957.49,685.52 L961.11,687.50 L964.73,689.50 L968.34,691.52 L971.96,693.56 L975.58,695.64 L979.20,697.74 L982.82,699.87 L986.44,702.03 L990.06,704.20 L993.67,706.40 L997.29,708.60 L1000.91,710.81 L1004.53,713.02 L1008.15,715.23 L1011.77,717.42 L1015.39,719.61 L1019.01,721.77 L1022.62,723.91 L1026.24,726.02 L1029.86,728.10 L1033.48,730.13 L1037.10,732.12 L1040.72,734.07 L1044.34,735.97 L1047.96,737.82 L1051.57,739.63 L1055.19,741.39 L1058.81,743.12 L1062.43,744.81 L1066.05,746.46 L1069.67,748.08 L1073.29,749.67 L1076.91,751.23 L1080.53,752.76 L1084.14,754.26 L1087.76,755.74 L1091.38,757.20 L1095.00,758.64 L1098.62,760.06 L1102.24,761.46 L1105.86,762.85 L1109.47,764.22 L1113.09,765.59 L1116.71,766.95 L1120.33,768.30 L1123.95,769.65 L1127.57,770.99 L1131.19,772.34 L1134.81,773.69 L1138.42,775.05 L1142.04,776.41 L1145.66,777.78 L1149.28,779.16 L1152.90,780.56 L1156.52,781.97 L1160.14,783.39 L1163.76,784.81 L1167.37,786.24 L1170.99,787.67 L1174.61,789.09 L1178.23,790.50 L1181.85,791.90 L1185.47,793.27 L1189.09,794.62 L1192.71,795.94 L1196.32,797.23 L1199.94,798.49 L1203.56,799.70 L1207.18,800.86 L1210.80,801.98 L1214.42,803.04 L1218.04,804.05 L1221.66,805.01 L1225.27,805.93 L1228.89,806.80 L1232.51,807.64 L1236.13,808.45 L1239.75,809.22 L1243.37,809.97 L1246.99,810.70 L1250.61,811.40 L1254.22,812.09 L1257.84,812.76 L1261.46,813.43 L1265.08,814.09 L1268.70,814.75 L1272.32,815.40 L1275.94,816.07 L1279.56,816.73 L1283.17,817.41 L1286.79,818.09 L1290.41,818.79 L1294.03,819.51 L1297.65,820.24 L1301.27,820.99 L1304.89,821.76 L1308.51,822.56 L1312.12,823.38 L1315.74,824.24 L1319.36,825.13 L1322.98,826.05 L1326.60,827.01 L1330.22,828.00 L1333.84,829.03 L1337.46,830.10 L1341.07,831.20 L1344.69,832.33 L1348.31,833.48 L1351.93,834.66 L1355.55,835.86 L1359.17,837.08 L1362.79,838.32 L1366.41,839.57 L1370.03,840.84 L1373.64,842.11 L1377.26,843.40 L1380.88,844.68 L1384.50,845.97" fill="none" stroke="#cc5e66" stroke-width="1.5" stroke-linejoin="round"/>
<polygon points="168.60,80.60 180.58,89.31 176.01,103.39 161.19,103.39 156.62,89.31" fill="#a00000"/>
<polygon points="226.50,110.53 238.48,119.23 233.91,133.32 219.09,133.32 214.52,119.23" fill="#a00000"/>
<polygon points="284.40,154.63 296.38,163.33 291.81,177.42 276.99,177.42 272.42,163.33" fill="#a00000"/>
<polygon points="342.30,190.85 354.28,199.56 349.71,213.64 334.89,213.64 330.32,199.56" fill="#a00000"/>
<polygon points="400.20,242.04 412.18,250.74 407.61,264.83 392.79,264.83 388.22,250.74" fill="#a00000"/>
<polygon points="458.10,292.44 470.08,301.14 465.51,315.23 450.69,315.23 446.12,301.14" fill="#a00000"/>
<polygon points="516.00,309.76 527.98,318.47 523.41,332.56 508.59,332.56 504.02,318.47" fill="#a00000"/>
<polygon points="573.90,364.89 585.88,373.59 581.31,387.68 566.49,387.68 561.92,373.59" fill="#a00000"/>
<polygon points="631.80,431.82 643.78,440.53 639.21,454.62 624.39,454.62 619.82,440.53" fill="#a00000"/>
<polygon points="689.70,475.53 701.68,484.24 697.11,498.32 682.29,498.32 677.72,484.24" fill="#a00000"/>
<polygon points="747.60,530.26 759.58,538.97 755.01,553.06 740.19,553.06 735.62,538.97" fill="#a00000"/>
<polygon points="805.50,566.88 817.48,575.59 812.91,589.67 798.09,589.67 793.52,575.59" fill="#a00000"/>
<polygon points="863.40,623.19 875.38,631.89 870.81,645.98 855.99,645.98 851.42,631.89" fill="#a00000"/>
<polygon points="921.30,653.90 933.28,662.61 928.71,676.69 913.89,676.69 909.32,662.61" fill="#a00000"/>
<polygon points="979.20,683.83 991.18,692.53 986.61,706.62 971.79,706.62 967.22,692.53" fill="#a00000"/>
<polygon points="1037.10,721.62 1049.08,730.33 1044.51,744.42 1029.69,744.42 1025.12,730.33" fill="#a00000"/>
<polygon points="1095.00,746.83 1106.98,755.53 1102.41,769.62 1087.59,769.62 1083.02,755.53" fill="#a00000"/>
<polygon points="1152.90,767.30 1164.88,776.01 1160.31,790.09 1145.49,790.09 1140.92,776.01" fill="#a00000"/>
<polygon points="1210.80,791.71 1222.78,800.42 1218.21,814.51 1203.39,814.51 1198.82,800.42" fill="#a00000"/>
<polygon points="1268.70,802.11 1280.68,810.81 1276.11,824.90 1261.29,824.90 1256.72,810.81" fill="#a00000"/>
<polygon points="1326.60,812.74 1338.58,821.45 1334.01,835.53 1319.19,835.53 1314.62,821.45" fill="#a00000"/>
<polygon points="1384.50,833.37 1396.48,842.08 1391.91,856.16 1377.09,856.16 1372.52,842.08" fill="#a00000"/>
</g>
<rect x="1157" y="41" width="259" height="522" fill="#fff"/>
<rect x="1156.1" y="40.9" width="259.9" height="2" fill="#505050"/>
<rect x="1156.1" y="561.1" width="259.9" height="1.9" fill="#505050"/>
<rect x="1414.2" y="40.9" width="1.8" height="522.1" fill="#555"/>
<rect x="1416" y="42" width="1.8" height="521" fill="#d0d0d0"/>
<rect x="1156.1" y="42.9" width="3.7" height="518.2" fill="#a3a3a3"/>
<line x1="1164.5" y1="85.70" x2="1265.5" y2="85.70" stroke="#5a5a5a" stroke-width="1.8"/>
<rect x="1205.90" y="74.45" width="19" height="19.5" fill="#000000"/>
<g transform="translate(1278.11,100.17) scale(0.9850,1.0000)"><text x="0" y="0" style="font-size:44.35px">450</text></g>
<g transform="translate(1364.96,76.42) scale(0.9200,1.0000)"><text x="0" y="0" style="font-size:28.10px">o</text></g>
<g transform="translate(1378.76,100.17) scale(0.9600,1.0000)"><text x="0" y="0" style="font-size:44.35px">C</text></g>
<line x1="1164.5" y1="149.90" x2="1265.5" y2="149.90" stroke="#ff5555" stroke-width="1.8"/>
<circle cx="1215.80" cy="149.90" r="11.8" fill="#ff0000"/>
<g transform="translate(1277.74,164.37) scale(0.9850,1.0000)"><text x="0" y="0" style="font-size:44.35px">500</text></g>
<g transform="translate(1364.96,140.62) scale(0.9200,1.0000)"><text x="0" y="0" style="font-size:28.10px">o</text></g>
<g transform="translate(1378.76,164.37) scale(0.9600,1.0000)"><text x="0" y="0" style="font-size:44.35px">C</text></g>
<line x1="1164.5" y1="214.10" x2="1265.5" y2="214.10" stroke="#5f5fff" stroke-width="1.8"/>
<polygon points="1215.80,198.63 1229.05,221.83 1202.55,221.83" fill="#0000ff"/>
<g transform="translate(1277.74,228.57) scale(0.9850,1.0000)"><text x="0" y="0" style="font-size:44.35px">550</text></g>
<g transform="translate(1364.96,204.82) scale(0.9200,1.0000)"><text x="0" y="0" style="font-size:28.10px">o</text></g>
<g transform="translate(1378.76,228.57) scale(0.9600,1.0000)"><text x="0" y="0" style="font-size:44.35px">C</text></g>
<line x1="1164.5" y1="278.30" x2="1265.5" y2="278.30" stroke="#3aadad" stroke-width="1.8"/>
<polygon points="1215.80,293.77 1229.05,270.57 1202.55,270.57" fill="#008080"/>
<g transform="translate(1277.80,292.54) scale(0.9850,1.0000)"><text x="0" y="0" style="font-size:44.35px">575</text></g>
<g transform="translate(1364.96,269.02) scale(0.9200,1.0000)"><text x="0" y="0" style="font-size:28.10px">o</text></g>
<g transform="translate(1378.76,292.77) scale(0.9600,1.0000)"><text x="0" y="0" style="font-size:44.35px">C</text></g>
<line x1="1164.5" y1="342.50" x2="1265.5" y2="342.50" stroke="#ff50ff" stroke-width="1.8"/>
<polygon points="1200.80,342.50 1223.30,329.10 1223.30,355.90" fill="#ff00ff"/>
<g transform="translate(1277.50,356.97) scale(0.9850,1.0000)"><text x="0" y="0" style="font-size:44.35px">600</text></g>
<g transform="translate(1364.96,333.22) scale(0.9200,1.0000)"><text x="0" y="0" style="font-size:28.10px">o</text></g>
<g transform="translate(1378.76,356.97) scale(0.9600,1.0000)"><text x="0" y="0" style="font-size:44.35px">C</text></g>
<line x1="1164.5" y1="406.70" x2="1265.5" y2="406.70" stroke="#a6a64c" stroke-width="1.8"/>
<polygon points="1230.80,406.70 1208.30,393.30 1208.30,420.10" fill="#808000"/>
<g transform="translate(1277.50,421.17) scale(0.9850,1.0000)"><text x="0" y="0" style="font-size:44.35px">650</text></g>
<g transform="translate(1364.96,397.42) scale(0.9200,1.0000)"><text x="0" y="0" style="font-size:28.10px">o</text></g>
<g transform="translate(1378.76,421.17) scale(0.9600,1.0000)"><text x="0" y="0" style="font-size:44.35px">C</text></g>
<line x1="1164.5" y1="470.90" x2="1265.5" y2="470.90" stroke="#5f5fb8" stroke-width="1.8"/>
<polygon points="1215.80,456.90 1228.80,470.90 1215.80,484.90 1202.80,470.90" fill="#000088"/>
<g transform="translate(1277.49,485.37) scale(0.9850,1.0000)"><text x="0" y="0" style="font-size:44.35px">700</text></g>
<g transform="translate(1364.96,461.62) scale(0.9200,1.0000)"><text x="0" y="0" style="font-size:28.10px">o</text></g>
<g transform="translate(1378.76,485.37) scale(0.9600,1.0000)"><text x="0" y="0" style="font-size:44.35px">C</text></g>
<line x1="1164.5" y1="535.10" x2="1265.5" y2="535.10" stroke="#cc5e66" stroke-width="1.8"/>
<polygon points="1215.80,522.50 1227.78,531.21 1223.21,545.29 1208.39,545.29 1203.82,531.21" fill="#a00000"/>
<g transform="translate(1277.66,549.57) scale(0.9850,1.0000)"><text x="0" y="0" style="font-size:44.35px">800</text></g>
<g transform="translate(1364.96,525.82) scale(0.9200,1.0000)"><text x="0" y="0" style="font-size:28.10px">o</text></g>
<g transform="translate(1378.76,549.57) scale(0.9600,1.0000)"><text x="0" y="0" style="font-size:44.35px">C</text></g>
<g transform="translate(598.14,1089.7) scale(0.9774,1)"><text x="0" y="0" style="font-size:46.1px">Irradiation time </text><g transform="translate(317.70,-11.9) scale(1,0.873) translate(0,11.9)"><text x="0" y="0" style="font-size:46.1px">(</text></g><text x="333.05" y="0" style="font-size:46.1px">min</text><g transform="translate(407.34,-11.9) scale(1,0.873) translate(0,11.9)"><text x="0" y="0" style="font-size:46.1px">)</text></g></g>
<g transform="translate(51.40,563.99) rotate(-90)"><text x="0" y="0" style="font-size:45.06px">C/C</text><g transform="translate(78.35,17.9) scale(0.9,1)"><text x="0" y="0" style="font-size:27.1px">0</text></g></g>
</svg>
</body></html>
